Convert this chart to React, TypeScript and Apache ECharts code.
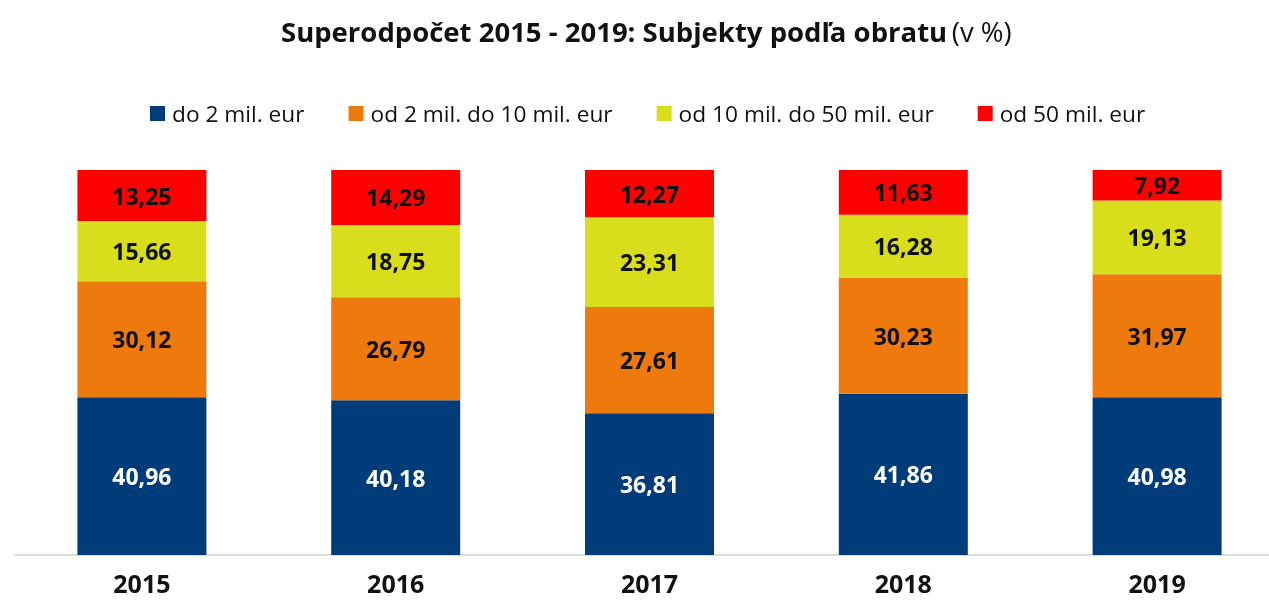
import React, { useEffect, useRef } from "react";
import * as echarts from "echarts";

const categories = ["2015", "2016", "2017", "2018", "2019"];
const seriesNames = ["do 2 mil. eur", "od 2 mil. do 10 mil. eur", "od 10 mil. do 50 mil. eur", "od 50 mil. eur"];
const do2 = [40.96, 40.18, 36.81, 41.86, 40.98];
const od2do10 = [30.12, 26.79, 27.61, 30.23, 31.97];
const od10do50 = [15.66, 18.75, 23.31, 16.28, 19.13];
const od50 = [13.25, 14.29, 12.27, 11.63, 7.92];
const colors = ["#003B7A", "#EE7A0D", "#D8DE1B", "#FF0000"];
const labelColors = ["#FFFFFF", "#111111", "#111111", "#111111"];

const FONT = "Open Sans";

export default function App() {
  const ref = useRef<HTMLDivElement>(null);
  useEffect(() => {
    if (!ref.current) return;
    const chart = echarts.init(ref.current, undefined, { renderer: "svg" });
    const data = [do2, od2do10, od10do50, od50];
    chart.setOption({
      animation: false,
      textStyle: { fontFamily: FONT },
      title: {
        text: "{b|Superodpočet 2015 - 2019: Subjekty podľa obratu} {n|(v %)}",
        left: 276,
        top: 12,
        textStyle: {
          rich: {
            b: { fontFamily: FONT, fontWeight: "bold", fontSize: 27.5, color: "#111" },
            n: { fontFamily: FONT, fontWeight: "normal", fontSize: 27.5, color: "#111" },
          },
        },
      },
      legend: {
        left: 145,
        top: 97,
        itemWidth: 15,
        itemHeight: 15,
        itemGap: 44,
        icon: "rect",
        textStyle: { fontFamily: FONT, fontSize: 22.7, color: "#111", padding: [0, 0, 0, 2] },
        data: seriesNames,
      },
      grid: { left: 15, width: 1269, top: 170, height: 385, containLabel: false },
      xAxis: {
        type: "category",
        data: categories,
        axisTick: { show: false },
        axisLine: { lineStyle: { color: "#D0D0D0", width: 1.5 } },
        axisLabel: { fontFamily: FONT, fontWeight: "bold", fontSize: 25, color: "#111", margin: 15 },
      },
      yAxis: { type: "value", min: 0, max: 100, show: false, splitLine: { show: false } },
      series: data.map((vals, i) => ({
        name: seriesNames[i],
        type: "bar",
        stack: "total",
        barWidth: 129,
        data: vals,
        itemStyle: { color: colors[i] },
        label: {
          show: true,
          position: "inside",
          fontFamily: FONT,
          fontWeight: "bold",
          fontSize: 23,
          color: labelColors[i],
          formatter: (p: any) => p.value.toFixed(2).replace(".", ","),
        },
      })),
    });
    return () => chart.dispose();
  }, []);
  return (
    <div style={{ position: "fixed", left: 0, top: 0, width: 1269, height: 603, overflow: "hidden" }}>
      <div ref={ref} style={{ width: 1300, height: 603 }} />
    </div>
  );
}
